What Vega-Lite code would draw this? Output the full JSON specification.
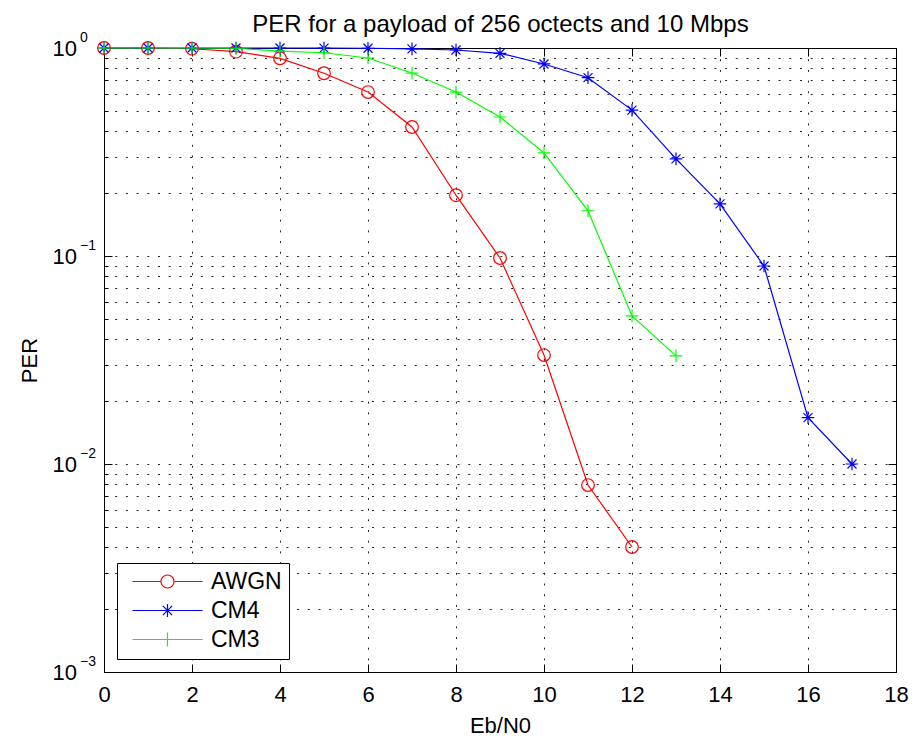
{
  "$schema": "https://vega.github.io/schema/vega-lite/v6.json",
  "autosize": {"type": "none"},
  "padding": {"left": 104, "top": 48, "right": 20, "bottom": 66},
  "width": 792,
  "height": 624,
  "background": "white",
  "data": {"values": [
    {"series": "AWGN", "x": 0, "y": 1.0},
    {"series": "AWGN", "x": 1, "y": 1.0},
    {"series": "AWGN", "x": 2, "y": 0.992},
    {"series": "AWGN", "x": 3, "y": 0.96},
    {"series": "AWGN", "x": 4, "y": 0.892},
    {"series": "AWGN", "x": 5, "y": 0.756},
    {"series": "AWGN", "x": 6, "y": 0.614},
    {"series": "AWGN", "x": 7, "y": 0.417},
    {"series": "AWGN", "x": 8, "y": 0.196},
    {"series": "AWGN", "x": 9, "y": 0.0978},
    {"series": "AWGN", "x": 10, "y": 0.0334},
    {"series": "AWGN", "x": 11, "y": 0.00792},
    {"series": "AWGN", "x": 12, "y": 0.00399},
    {"series": "CM4", "x": 0, "y": 1.0},
    {"series": "CM4", "x": 1, "y": 1.0},
    {"series": "CM4", "x": 2, "y": 1.0},
    {"series": "CM4", "x": 3, "y": 1.0},
    {"series": "CM4", "x": 4, "y": 1.0},
    {"series": "CM4", "x": 5, "y": 0.999},
    {"series": "CM4", "x": 6, "y": 0.997},
    {"series": "CM4", "x": 7, "y": 0.99},
    {"series": "CM4", "x": 8, "y": 0.978},
    {"series": "CM4", "x": 9, "y": 0.943},
    {"series": "CM4", "x": 10, "y": 0.838},
    {"series": "CM4", "x": 11, "y": 0.72},
    {"series": "CM4", "x": 12, "y": 0.503},
    {"series": "CM4", "x": 13, "y": 0.293},
    {"series": "CM4", "x": 14, "y": 0.178},
    {"series": "CM4", "x": 15, "y": 0.0895},
    {"series": "CM4", "x": 16, "y": 0.0167},
    {"series": "CM4", "x": 17, "y": 0.01},
    {"series": "CM3", "x": 0, "y": 1.0},
    {"series": "CM3", "x": 1, "y": 1.0},
    {"series": "CM3", "x": 2, "y": 1.0},
    {"series": "CM3", "x": 3, "y": 0.997},
    {"series": "CM3", "x": 4, "y": 0.967},
    {"series": "CM3", "x": 5, "y": 0.949},
    {"series": "CM3", "x": 6, "y": 0.895},
    {"series": "CM3", "x": 7, "y": 0.758},
    {"series": "CM3", "x": 8, "y": 0.614},
    {"series": "CM3", "x": 9, "y": 0.466},
    {"series": "CM3", "x": 10, "y": 0.313},
    {"series": "CM3", "x": 11, "y": 0.165},
    {"series": "CM3", "x": 12, "y": 0.0515},
    {"series": "CM3", "x": 13, "y": 0.0331}
  ]},
  "resolve": {
    "axis": {"x": "independent", "y": "independent"},
    "scale": {"color": "independent", "shape": "independent"}
  },
  "layer": [
    {
      "mark": {"type": "line", "strokeWidth": 1.2},
      "encoding": {
        "x": {"field": "x", "type": "quantitative",
          "scale": {"domain": [0, 18], "nice": false, "zero": false},
          "axis": {"orient": "bottom", "values": [0, 2, 4, 6, 8, 10, 12, 14, 16, 18], "tickSize": -8, "labelPadding": 20, "grid": true,
            "title": "Eb/N0", "titleX": 396, "titleY": 60, "titleBaseline": "alphabetic"}},
        "y": {"field": "y", "type": "quantitative",
          "scale": {"type": "log", "domain": [0.001, 1], "nice": false},
          "axis": {"orient": "left",
            "values": [0.001, 0.002, 0.003, 0.004, 0.005, 0.006, 0.007, 0.008, 0.009, 0.01, 0.02, 0.03, 0.04, 0.05, 0.06, 0.07, 0.08, 0.09, 0.1, 0.2, 0.3, 0.4, 0.5, 0.6, 0.7, 0.8, 0.9, 1],
            "tickSize": -4, "labelPadding": 31.5, "grid": true,
            "labelExpr": "datum.value == 1 || datum.value == 0.1 || datum.value == 0.01 || datum.value == 0.001 ? '10' : ''",
            "labelBaseline": "middle",
            "title": "PER", "titleX": -68, "titleY": 312, "titleAngle": 270, "titleBaseline": "alphabetic"}},
        "color": {"field": "series", "type": "nominal",
          "scale": {"domain": ["AWGN", "CM4", "CM3"], "range": ["#ff0000", "#0000ff", "#00ff00"]},
          "legend": null}
      }
    },
    {
      "mark": {"type": "point", "filled": false, "size": 160, "strokeWidth": 1.2, "opacity": 1},
      "encoding": {
        "x": {"field": "x", "type": "quantitative",
          "scale": {"domain": [0, 18], "nice": false, "zero": false},
          "axis": {"orient": "top", "values": [0, 2, 4, 6, 8, 10, 12, 14, 16, 18], "tickSize": -8, "labels": false, "grid": false,
            "title": "PER for a payload of 256 octects and 10 Mbps", "titleFontSize": 24, "titleX": 396, "titleY": -17, "titleBaseline": "alphabetic", "titleAlign": "center"}},
        "y": {"field": "y", "type": "quantitative",
          "scale": {"type": "log", "domain": [0.001, 1], "nice": false},
          "axis": {"orient": "right",
            "values": [0.001, 0.002, 0.003, 0.004, 0.005, 0.006, 0.007, 0.008, 0.009, 0.01, 0.02, 0.03, 0.04, 0.05, 0.06, 0.07, 0.08, 0.09, 0.1, 0.2, 0.3, 0.4, 0.5, 0.6, 0.7, 0.8, 0.9, 1],
            "tickSize": -4, "labels": false, "grid": false, "title": null}},
        "color": {"field": "series", "type": "nominal",
          "scale": {"domain": ["AWGN", "CM4", "CM3"], "range": ["#ff0000", "#0000ff", "#00ff00"]},
          "legend": null},
        "shape": {"field": "series", "type": "nominal",
          "scale": {"domain": ["AWGN", "CM4", "CM3"], "range": ["circle", "M-1,0L1,0M0,-1L0,1M-0.71,-0.71L0.71,0.71M-0.71,0.71L0.71,-0.71", "M-1,0L1,0M0,-1L0,1"]},
          "legend": null}
      }
    },
    {
      "transform": [{"filter": "datum.x < 0"}],
      "mark": {"type": "point", "filled": false, "size": 196, "strokeWidth": 1.2, "opacity": 1},
      "encoding": {
        "y": {"field": "y", "type": "quantitative",
          "scale": {"type": "log", "domain": [0.001, 1], "nice": false},
          "axis": {"orient": "left", "values": [0.001, 0.01, 0.1, 1], "tickSize": -8, "labelPadding": 32.5,
            "labelExpr": "datum.value == 1 ? '0' : datum.value == 0.1 ? '−1' : datum.value == 0.01 ? '−2' : '−3'",
            "labelAlign": "left", "labelBaseline": "middle", "labelOffset": -11, "labelFontSize": 14, "grid": false, "title": null}},
        "color": {"field": "series", "type": "nominal",
          "scale": {"domain": ["AWGN", "CM4", "CM3"], "range": ["#ff0000", "#0000ff", "#00ff00"]},
          "legend": {"title": null}},
        "shape": {"field": "series", "type": "nominal",
          "scale": {"domain": ["AWGN", "CM4", "CM3"], "range": [
            "M-5,0L-0.93,0M0.93,0L5,0M-0.93,0A0.93,0.93,0,1,0,0.93,0A0.93,0.93,0,1,0,-0.93,0",
            "M-5,0L5,0M-0.93,0L0.93,0M0,-0.93L0,0.93M-0.66,-0.66L0.66,0.66M-0.66,0.66L0.66,-0.66",
            "M-5,0L5,0M0,-1L0,1"]},
          "legend": {"title": null}}
      }
    },
    {
      "transform": [{"filter": "datum.x < 0"}],
      "mark": {"type": "point", "filled": false},
      "encoding": {
        "y": {"field": "y", "type": "quantitative",
          "scale": {"type": "log", "domain": [0.001, 1], "nice": false},
          "axis": {"orient": "right", "values": [0.001, 0.01, 0.1, 1], "tickSize": -8, "labels": false, "grid": false, "title": null}}
      }
    }
  ],
  "config": {
    "view": {"stroke": "black", "strokeWidth": 1},
    "font": "Liberation Sans",
    "axis": {"domainColor": "black", "domainWidth": 1, "tickColor": "black", "tickWidth": 1, "labelColor": "black", "titleColor": "black",
      "labelFont": "Liberation Sans", "titleFont": "Liberation Sans", "labelFontSize": 22, "titleFontSize": 22, "titleFontWeight": "normal",
      "gridColor": "black", "gridDash": [2, 8.7], "gridOpacity": 0.85, "gridWidth": 1, "labelFlush": false, "labelOverlap": false},
    "legend": {"orient": "bottom-left", "offset": 13, "padding": 7, "strokeColor": "black", "fillColor": "white", "cornerRadius": 0,
      "symbolSize": 196, "symbolStrokeWidth": 1.2, "symbolOffset": 32, "labelOffset": 32, "labelFontSize": 23, "labelFont": "Liberation Sans", "labelColor": "black",
      "rowPadding": 5, "labelLimit": 300}
  }
}
